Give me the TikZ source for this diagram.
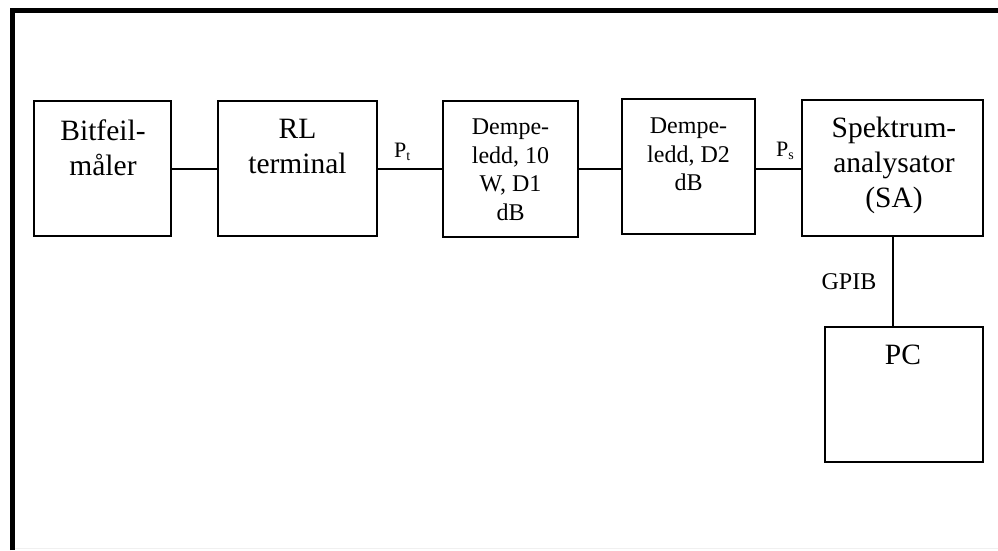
\documentclass[tikz,border=0pt]{standalone}
\usepackage{fontspec}
\setmainfont{Liberation Serif}
\begin{document}
\begin{tikzpicture}[x=1pt,y=-1pt,
  blk/.style={draw=black,line width=1.5pt,rectangle,inner sep=0pt},
  bigtxt/.style={inner sep=0pt,anchor=north,align=center,font=\fontsize{29.5}{35}\selectfont},
  smalltxt/.style={inner sep=0pt,anchor=north,align=center,font=\fontsize{24}{28.5}\selectfont},
  lbl/.style={inner sep=0pt,font=\fontsize{22}{24}\selectfont},
  wire/.style={line width=1.5pt}]
\useasboundingbox (0,0) rectangle (998,550);
% frame
\draw[line width=5pt] (12.5,550) -- (12.5,10.5) -- (998,10.5);
\draw[gray!12,line width=1pt] (15,548) -- (998,548);
% boxes
\node[blk,minimum width=137pt,minimum height=135pt] (bit) at (102.5,168.5) {};
\node[blk,minimum width=159pt,minimum height=135pt] (rl) at (297.5,168.5) {};
\node[blk,minimum width=135pt,minimum height=136pt] (d1) at (510.5,169) {};
\node[blk,minimum width=133pt,minimum height=135pt] (d2) at (688.5,166.5) {};
\node[blk,minimum width=181pt,minimum height=136pt] (sa) at (892.5,168) {};
\node[blk,minimum width=158pt,minimum height=135pt] (pc) at (904,394.5) {};
% texts
\node[bigtxt] (tbit) at (103,120) {Bitfeil-\\måler};
\node[bigtxt] (trl) at (297.5,119) {RL\\terminal};
\node[smalltxt] (td1) at (510.5,119) {Dempe-\\ledd, 10\\W, D1\\dB};
\node[smalltxt] (td2) at (688.5,118) {Dempe-\\ledd, D2\\dB};
\node[bigtxt] (tsa) at (894,117) {Spektrum-\\analysator\\(SA)};
\node[bigtxt] (tpc) at (903,345) {PC};
% connectors
\draw[wire] (bit.east |- 0,169) -- (rl.west |- 0,169);
\draw[wire] (rl.east |- 0,169) -- (d1.west |- 0,169);
\draw[wire] (d1.east |- 0,169) -- (d2.west |- 0,169);
\draw[wire] (d2.east |- 0,169) -- (sa.west |- 0,169);
\draw[wire] (sa.south -| 893,0) -- (pc.north -| 893,0);
% labels
\node[lbl,anchor=base west] (pt) at (394,157) {P{\fontsize{14}{14}\selectfont\raisebox{-3pt}{t}}};
\node[lbl,anchor=base west] (ps) at (776,156) {P{\fontsize{14}{14}\selectfont\raisebox{-3pt}{s}}};
\node[inner sep=0pt,font=\fontsize{24}{26}\selectfont] (gpib) at (849,282) {GPIB};
\end{tikzpicture}
\end{document}
